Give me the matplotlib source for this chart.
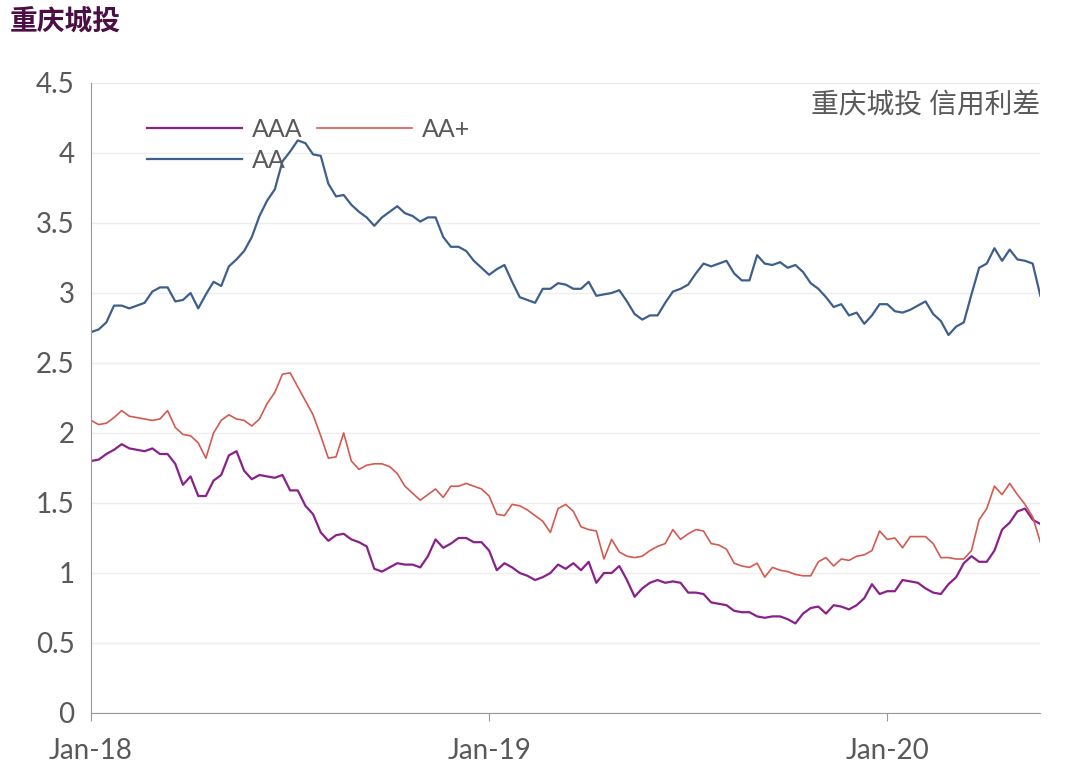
import matplotlib
matplotlib.use("Agg")
import matplotlib.pyplot as plt
import numpy as np

plt.rcParams['font.family'] = ['Lato', 'Noto Sans CJK SC', 'DejaVu Sans']

aa = [2.72, 2.74, 2.79, 2.91, 2.91, 2.89, 2.91, 2.93, 3.01, 3.04,
      3.04, 2.94, 2.95, 3.00, 2.89, 2.99, 3.08, 3.05, 3.19, 3.24,
      3.30, 3.40, 3.55, 3.66, 3.74, 3.94, 4.01, 4.09, 4.07, 3.99,
      3.98, 3.78, 3.69, 3.70, 3.63, 3.58, 3.54, 3.48, 3.54, 3.58,
      3.62, 3.57, 3.55, 3.51, 3.54, 3.54, 3.40, 3.33, 3.33, 3.30,
      3.23, 3.18, 3.13, 3.17, 3.20, 3.08, 2.97, 2.95, 2.93, 3.03,
      3.03, 3.07, 3.06, 3.03, 3.03, 3.08, 2.98, 2.99, 3.00, 3.02,
      2.94, 2.85, 2.81, 2.84, 2.84, 2.93, 3.01, 3.03, 3.06, 3.14,
      3.21, 3.19, 3.21, 3.23, 3.14, 3.09, 3.09, 3.27, 3.21, 3.20,
      3.22, 3.18, 3.20, 3.15, 3.07, 3.03, 2.97, 2.90, 2.92, 2.84,
      2.86, 2.78, 2.84, 2.92, 2.92, 2.87, 2.86, 2.88, 2.91, 2.94,
      2.85, 2.80, 2.70, 2.76, 2.79, 2.99, 3.18, 3.21, 3.32, 3.23,
      3.31, 3.24, 3.23, 3.21, 2.98]
aap = [2.09, 2.06, 2.07, 2.11, 2.16, 2.12, 2.11, 2.10, 2.09, 2.10,
       2.16, 2.04, 1.99, 1.98, 1.93, 1.82, 2.00, 2.09, 2.13, 2.10,
       2.09, 2.05, 2.10, 2.21, 2.29, 2.42, 2.43, 2.33, 2.23, 2.13,
       1.98, 1.82, 1.83, 2.00, 1.80, 1.74, 1.77, 1.78, 1.78, 1.76,
       1.71, 1.62, 1.57, 1.52, 1.56, 1.60, 1.54, 1.62, 1.62, 1.64,
       1.62, 1.60, 1.55, 1.42, 1.41, 1.49, 1.48, 1.45, 1.41, 1.37,
       1.29, 1.46, 1.49, 1.44, 1.33, 1.31, 1.30, 1.10, 1.24, 1.15,
       1.12, 1.11, 1.12, 1.16, 1.19, 1.21, 1.31, 1.24, 1.28, 1.31,
       1.30, 1.21, 1.20, 1.17, 1.07, 1.05, 1.04, 1.07, 0.97, 1.04,
       1.02, 1.01, 0.99, 0.98, 0.98, 1.08, 1.11, 1.05, 1.10, 1.09,
       1.12, 1.13, 1.16, 1.30, 1.24, 1.25, 1.18, 1.26, 1.26, 1.26,
       1.21, 1.11, 1.11, 1.10, 1.10, 1.16, 1.38, 1.46, 1.62, 1.56,
       1.64, 1.56, 1.49, 1.40, 1.22]
aaa = [1.80, 1.81, 1.85, 1.88, 1.92, 1.89, 1.88, 1.87, 1.89, 1.85,
       1.85, 1.78, 1.63, 1.69, 1.55, 1.55, 1.66, 1.70, 1.84, 1.87,
       1.73, 1.67, 1.70, 1.69, 1.68, 1.70, 1.59, 1.59, 1.48, 1.42,
       1.29, 1.23, 1.27, 1.28, 1.24, 1.22, 1.19, 1.03, 1.01, 1.04,
       1.07, 1.06, 1.06, 1.04, 1.12, 1.24, 1.18, 1.21, 1.25, 1.25,
       1.22, 1.22, 1.16, 1.02, 1.07, 1.04, 1.00, 0.98, 0.95, 0.97,
       1.00, 1.06, 1.03, 1.07, 1.02, 1.08, 0.93, 1.00, 1.00, 1.05,
       0.95, 0.83, 0.89, 0.93, 0.95, 0.93, 0.94, 0.93, 0.86, 0.86,
       0.85, 0.79, 0.78, 0.77, 0.73, 0.72, 0.72, 0.69, 0.68, 0.69,
       0.69, 0.67, 0.64, 0.71, 0.75, 0.76, 0.71, 0.77, 0.76, 0.74,
       0.77, 0.82, 0.92, 0.85, 0.87, 0.87, 0.95, 0.94, 0.93, 0.89,
       0.86, 0.85, 0.92, 0.97, 1.07, 1.12, 1.08, 1.08, 1.16, 1.31,
       1.36, 1.44, 1.46, 1.38, 1.35]
tick_pos = [0, 52, 104]
tick_labels = ['Jan-18', 'Jan-19', 'Jan-20']
yticks = [0, 0.5, 1, 1.5, 2, 2.5, 3, 3.5, 4, 4.5]

fig = plt.figure(figsize=(10.8, 7.83), dpi=100)
ax = fig.add_axes([0.0843, 0.0894, 0.879, 0.8046])
x = np.arange(len(aa))
l1, = ax.plot(x, aaa, color='#88228a', lw=1.6, label='AAA')
l2, = ax.plot(x, aap, color='#d45a50', lw=1.2, label='AA+')
l3, = ax.plot(x, aa, color='#3d5f8c', lw=1.6, label='AA')
ax.set_xlim(0, len(aa) - 1)
ax.set_ylim(0, 4.5)
ax.set_yticks(yticks)
ax.set_yticklabels(['0', '0.5', '1', '1.5', '2', '2.5', '3', '3.5', '4', '4.5'])
ax.set_xticks(tick_pos)
ax.set_xticklabels(tick_labels)
ax.grid(axis='y', color='#eeeeee', lw=1)
ax.set_axisbelow(True)
for s in ['top', 'right']:
    ax.spines[s].set_visible(False)
for s in ['left', 'bottom']:
    ax.spines[s].set_color('#999999')
ax.tick_params(axis='y', length=0, labelsize=20, labelcolor='#595959', pad=12)
ax.tick_params(axis='x', length=6, color='#999999', labelsize=20, labelcolor='#595959', pad=12)
leg = ax.legend([l1, l3, l2], ['AAA', 'AA', 'AA+'], ncol=2, frameon=False, loc='upper left',
                bbox_to_anchor=(0.035, 0.98), fontsize=18, handlelength=3.8,
                columnspacing=0.6, labelspacing=0.3, handletextpad=0.4)
for t in leg.get_texts():
    t.set_color('#595959')
ax.text(1.0, 0.985, '重庆城投 信用利差', transform=ax.transAxes, ha='right', va='top',
        fontsize=20, color='#595959')
fig.text(0.009, 0.972, '重庆城投', ha='left', va='center', fontsize=20,
         fontweight='bold', color='#4b0f45')
fig.savefig('out.png', dpi=100)
